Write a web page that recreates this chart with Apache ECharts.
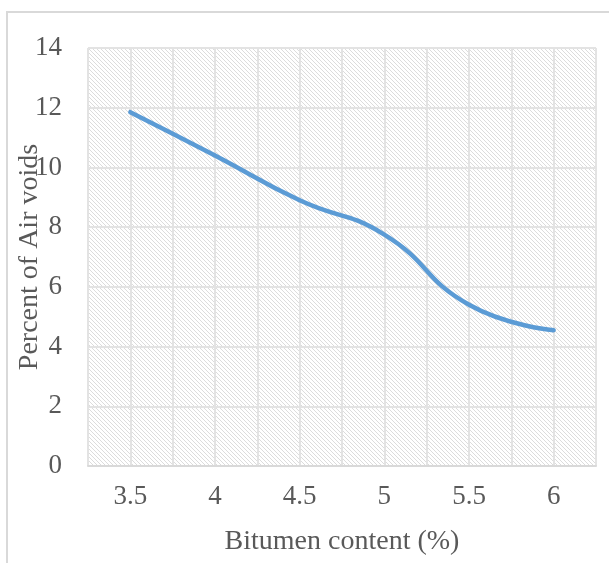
<!DOCTYPE html>
<html>
<head>
<meta charset="utf-8">
<script src="https://cdn.jsdelivr.net/npm/echarts@6/dist/echarts.min.js"></script>
<style>
  html, body { margin: 0; padding: 0; background: #fff; }
  #main { width: 609px; height: 563px; }
</style>
</head>
<body>
<div id="main"></div>
<script>
var bitumen = [3.5, 4, 4.5, 5, 5.5, 6];
var airVoids = [11.85, 10.4, 8.9, 7.75, 5.4, 4.55];
var xTickLabels = ['3.5', '4', '4.5', '5', '5.5', '6'];
var yTickLabels = ['0', '2', '4', '6', '8', '10', '12', '14'];

// hatch pattern for the plot area
var hatch = document.createElement('canvas');
hatch.width = 4;
hatch.height = 4;
var hc = hatch.getContext('2d');
hc.fillStyle = '#ffffff';
hc.fillRect(0, 0, 4, 4);
hc.fillStyle = '#dcdcdc';
for (var i = 0; i < 4; i++) {
  hc.fillRect(i, i, 1, 1);
}

var font = "'Liberation Serif', 'Times New Roman', serif";
var chart = echarts.init(document.getElementById('main'));

chart.setOption({
  animation: false,
  textStyle: { fontFamily: font },
  graphic: [{
    type: 'rect',
    shape: { x: 7, y: 12, width: 800, height: 800 },
    style: { fill: 'none', stroke: '#d9d9d9', lineWidth: 2 },
    silent: true
  }],
  grid: {
    left: 88, top: 48, right: 13, bottom: 97,
    outerBoundsMode: 'none',
    containLabel: false,
    show: true,
    borderWidth: 0,
    backgroundColor: { image: hatch, repeat: 'repeat' }
  },
  xAxis: {
    type: 'value',
    min: 3.25, max: 6.25, interval: 0.25,
    name: 'Bitumen content (%)',
    nameLocation: 'middle',
    nameGap: 62,
    nameMoveOverlap: false,
    nameTextStyle: { fontFamily: font, fontSize: 28, color: '#595959' },
    axisLine: { show: true, lineStyle: { color: '#d9d9d9', width: 2 } },
    axisTick: { show: false },
    splitLine: { show: true, lineStyle: { color: '#e3e3e3', width: 2 } },
    axisLabel: {
      fontFamily: font, fontSize: 27, color: '#595959', margin: 17,
      formatter: function (v) {
        var idx = bitumen.indexOf(Math.round(v * 100) / 100);
        return idx >= 0 ? xTickLabels[idx] : '';
      }
    }
  },
  yAxis: {
    type: 'value',
    min: 0, max: 14, interval: 2,
    name: 'Percent of Air voids',
    nameLocation: 'middle',
    nameGap: 44,
    nameMoveOverlap: false,
    nameTextStyle: { fontFamily: font, fontSize: 28, color: '#595959' },
    axisLine: { show: false },
    axisTick: { show: false },
    splitLine: { show: true, lineStyle: { color: '#e3e3e3', width: 2 } },
    axisLabel: {
      fontFamily: font, fontSize: 27, color: '#595959', margin: 26,
      formatter: function (v) {
        return yTickLabels[Math.round(v / 2)];
      }
    }
  },
  series: [{
    type: 'line',
    data: bitumen.map(function (b, i) { return [b, airVoids[i]]; }),
    smooth: 0.5,
    showSymbol: false,
    lineStyle: { color: '#5b9bd5', width: 4.5, cap: 'round' },
    itemStyle: { color: '#5b9bd5' }
  }]
});
</script>
</body>
</html>
